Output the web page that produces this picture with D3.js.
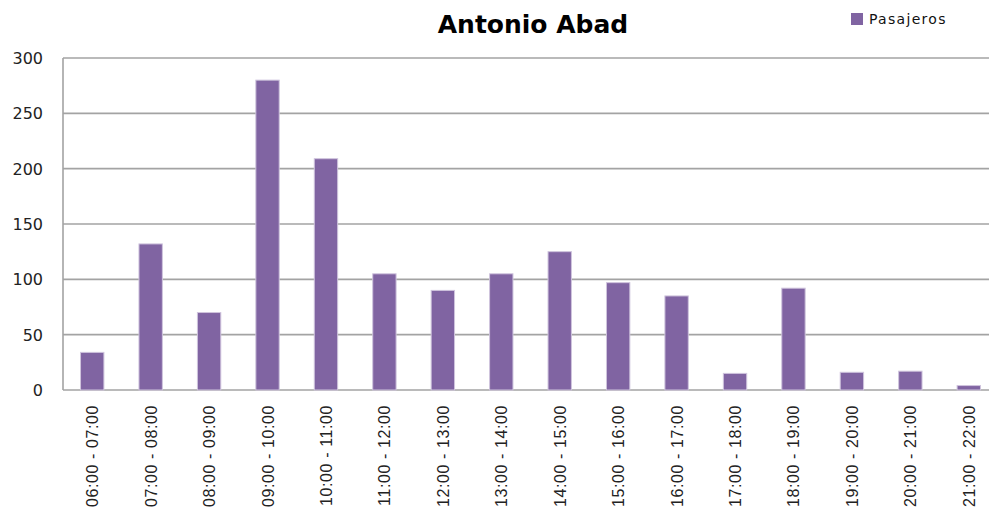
<!DOCTYPE html>
<html>
<head>
<meta charset="utf-8">
<script src="https://cdn.jsdelivr.net/npm/d3@7"></script>
<style>
  body { margin: 0; background: #fff; }
  svg { display: block; }
</style>
</head>
<body>
<div id="chart"></div>
<script>
var width = 989
var height = 514

// data
var horas = ['06:00 - 07:00', '07:00 - 08:00', '08:00 - 09:00', '09:00 - 10:00',
             '10:00 - 11:00', '11:00 - 12:00', '12:00 - 13:00', '13:00 - 14:00',
             '14:00 - 15:00', '15:00 - 16:00', '16:00 - 17:00', '17:00 - 18:00',
             '18:00 - 19:00', '19:00 - 20:00', '20:00 - 21:00', '21:00 - 22:00']
var pasajeros = [34, 132, 70, 280, 209, 105, 90, 105, 125, 97, 85, 15, 92, 16, 17, 4]
var yTicks = [0, 50, 100, 150, 200, 250, 300]
var titulo = 'Antonio Abad'
var serieNombre = 'Pasajeros'

// plot box (window.top is reserved, so no bare "top")
var plotLeft = 63, plotRight = 998, plotTop = 58, plotBottom = 390

var svg = d3.select('#chart').append('svg')
    .attr('width', width)
    .attr('height', height)

var xScale = d3.scaleBand()
    .domain(horas)
    .range([plotLeft, plotRight])
    .paddingInner(0.6)
    .paddingOuter(0.3)

var yScale = d3.scaleLinear()
    .domain([0, 300])
    .range([plotBottom, plotTop])

// gridlines
svg.append('g')
    .selectAll('line')
    .data(yTicks)
    .enter().append('line')
    .attr('x1', plotLeft)
    .attr('x2', width)
    .attr('y1', d => yScale(d))
    .attr('y2', d => yScale(d))
    .style('stroke', '#a3a3a3')
    .style('stroke-width', 1.6)

// left axis line
svg.append('line')
    .attr('x1', plotLeft).attr('x2', plotLeft)
    .attr('y1', yScale(300)).attr('y2', yScale(0))
    .style('stroke', '#a3a3a3')
    .style('stroke-width', 1.6)

// y labels
svg.append('g')
    .selectAll('text')
    .data(yTicks)
    .enter().append('text')
    .attr('x', 43)
    .attr('y', d => yScale(d) + 6)
    .attr('text-anchor', 'end')
    .style('font-family', 'DejaVu Sans, sans-serif')
    .style('font-size', '16px')
    .style('fill', '#222')
    .text(d => d)

// bars
svg.append('g')
    .selectAll('rect')
    .data(pasajeros)
    .enter().append('rect')
    .attr('x', (d, i) => xScale(horas[i]))
    .attr('y', d => yScale(d))
    .attr('width', xScale.bandwidth())
    .attr('height', d => yScale(0) - yScale(d))
    .style('fill', '#8064a2')
    .style('stroke', '#cfc4dd')
    .style('stroke-width', 1)

// x labels, rotated
svg.append('g')
    .selectAll('text')
    .data(horas)
    .enter().append('text')
    .attr('transform', d => 'translate(' + (xScale(d) + xScale.bandwidth() / 2 + 6) + ',405) rotate(-90)')
    .attr('text-anchor', 'end')
    .style('font-family', 'Liberation Sans, Arial, sans-serif')
    .style('font-size', '16px')
    .style('letter-spacing', '0.6px')
    .style('fill', '#222')
    .text(d => d)

// title
svg.append('text')
    .attr('x', 533)
    .attr('y', 33)
    .attr('text-anchor', 'middle')
    .style('font-family', 'DejaVu Sans, sans-serif')
    .style('font-weight', 'bold')
    .style('font-size', '25px')
    .style('fill', '#000')
    .text(titulo)

// legend
var legend = svg.append('g').attr('transform', 'translate(851,13)')
legend.append('rect')
    .attr('width', 12).attr('height', 12)
    .style('fill', '#8064a2')
legend.append('text')
    .attr('x', 18)
    .attr('y', 11)
    .style('font-family', 'DejaVu Sans, sans-serif')
    .style('font-size', '14px')
    .style('letter-spacing', '1.3px')
    .style('fill', '#111')
    .text(serieNombre)
</script>
</body>
</html>
